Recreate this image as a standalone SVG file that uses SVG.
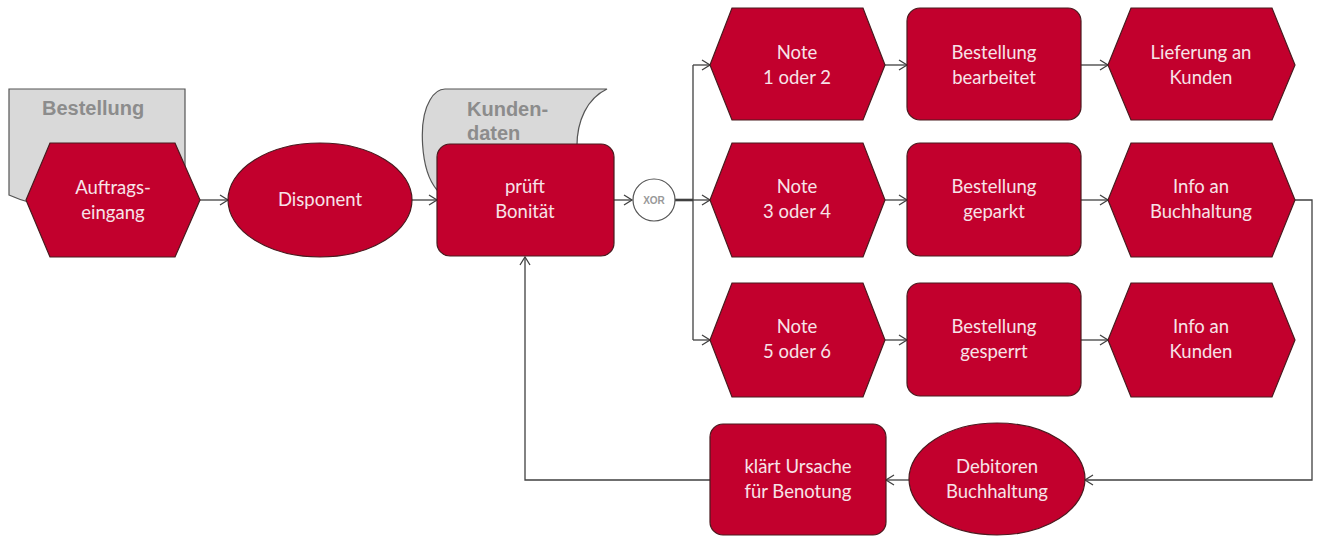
<svg xmlns="http://www.w3.org/2000/svg" width="1329" height="537" viewBox="0 0 1329 537">
<style>
.n{fill:#c2002d;stroke:#4a1a1f;stroke-width:1.2}
.t{font-family:Lato,"Liberation Sans",sans-serif;font-size:18.5px;fill:#f7e3e8;text-anchor:middle}
.doc{fill:#d9d9d9;stroke:#555;stroke-width:1.2}
.dt{font-family:"Liberation Sans",Arial,sans-serif;font-weight:bold;font-size:20px;fill:#8c8c8c}
.c{fill:none;stroke:#404040;stroke-width:1.3}
</style>
<defs>
<marker id="a" markerUnits="userSpaceOnUse" markerWidth="12" markerHeight="12" refX="9" refY="6" orient="auto">
<path d="M1,1 L9,6 L1,11" fill="none" stroke="#404040" stroke-width="1.3"/>
</marker>
</defs>
<g id="bestellung-doc">
<path class="doc" d="M9,89 H185 V195 C150,185 100,200 60,205 C40,207 20,200 9,195 Z"/>
<text class="dt" x="42" y="115">Bestellung</text>
</g>
<g id="kundendaten-doc">
<path class="doc" d="M445,89 H607 C588,98 576,120 577,150 L577,190 L437,190 C420,170 418,120 430,100 C434,93 438,89 445,89 Z"/>
<text class="dt" x="467" y="116">Kunden-</text>
<text class="dt" x="467" y="140">daten</text>
</g>
<g id="connectors">
<line class="c" x1="200" y1="200" x2="228" y2="200" marker-end="url(#a)"/>
<line class="c" x1="412" y1="200" x2="437" y2="200" marker-end="url(#a)"/>
<line class="c" x1="614" y1="200" x2="632" y2="200" marker-end="url(#a)"/>
<line x1="675" y1="200" x2="693" y2="200" stroke="#404040" stroke-width="2.6"/>
<line class="c" x1="693" y1="65" x2="693" y2="340"/>
<line class="c" x1="693" y1="65" x2="710" y2="65" marker-end="url(#a)"/>
<line class="c" x1="693" y1="200" x2="710" y2="200" marker-end="url(#a)"/>
<line class="c" x1="693" y1="340" x2="710" y2="340" marker-end="url(#a)"/>
<line class="c" x1="885" y1="65" x2="907" y2="65" marker-end="url(#a)"/>
<line class="c" x1="885" y1="200" x2="907" y2="200" marker-end="url(#a)"/>
<line class="c" x1="885" y1="340" x2="907" y2="340" marker-end="url(#a)"/>
<line class="c" x1="1081" y1="65" x2="1108" y2="65" marker-end="url(#a)"/>
<line class="c" x1="1081" y1="200" x2="1108" y2="200" marker-end="url(#a)"/>
<line class="c" x1="1081" y1="340" x2="1108" y2="340" marker-end="url(#a)"/>
<polyline class="c" points="1295,200 1312,200 1312,480 1085,480" marker-end="url(#a)"/>
<line class="c" x1="909" y1="480" x2="886" y2="480" marker-end="url(#a)"/>
<polyline class="c" points="710,480 525,480 525,257" marker-end="url(#a)"/>
</g>
<g id="auftragseingang">
<polygon class="n" points="26,200 50,143 175,143 200,200 175,257 50,257"/>
<text class="t" x="113" y="194">Auftrags-</text>
<text class="t" x="113" y="219">eingang</text>
</g>
<g id="disponent">
<ellipse class="n" cx="320" cy="200" rx="92" ry="57"/>
<text class="t" x="320" y="206">Disponent</text>
</g>
<g id="prueft">
<rect class="n" x="437" y="144" width="177" height="112" rx="13"/>
<text class="t" x="525" y="193">prüft</text>
<text class="t" x="525" y="218">Bonität</text>
</g>
<g id="xor">
<circle cx="654" cy="200" r="21" fill="#fff" stroke="#555" stroke-width="1.2"/>
<text x="654" y="204" font-family="Liberation Sans,Arial,sans-serif" font-size="10" font-weight="bold" fill="#999" text-anchor="middle">XOR</text>
</g>
<g id="note12">
<polygon class="n" points="710,65 732,8 863,8 885,65 863,120 732,120"/>
<text class="t" x="797" y="59">Note</text>
<text class="t" x="797" y="84">1 oder 2</text>
</g>
<g id="bearbeitet">
<rect class="n" x="907" y="8" width="174" height="112" rx="13"/>
<text class="t" x="994" y="59">Bestellung</text>
<text class="t" x="994" y="84">bearbeitet</text>
</g>
<g id="lieferung">
<polygon class="n" points="1108,65 1131,8 1272,8 1295,65 1272,120 1131,120"/>
<text class="t" x="1201" y="59">Lieferung an</text>
<text class="t" x="1201" y="84">Kunden</text>
</g>
<g id="note34">
<polygon class="n" points="710,200 732,143 863,143 885,200 863,257 732,257"/>
<text class="t" x="797" y="193">Note</text>
<text class="t" x="797" y="218">3 oder 4</text>
</g>
<g id="geparkt">
<rect class="n" x="907" y="143" width="174" height="113" rx="13"/>
<text class="t" x="994" y="193">Bestellung</text>
<text class="t" x="994" y="218">geparkt</text>
</g>
<g id="info-buchhaltung">
<polygon class="n" points="1108,200 1131,143 1272,143 1295,200 1272,257 1131,257"/>
<text class="t" x="1201" y="193">Info an</text>
<text class="t" x="1201" y="218">Buchhaltung</text>
</g>
<g id="note56">
<polygon class="n" points="710,340 732,283 863,283 885,340 863,397 732,397"/>
<text class="t" x="797" y="333">Note</text>
<text class="t" x="797" y="358">5 oder 6</text>
</g>
<g id="gesperrt">
<rect class="n" x="907" y="283" width="174" height="113" rx="13"/>
<text class="t" x="994" y="333">Bestellung</text>
<text class="t" x="994" y="358">gesperrt</text>
</g>
<g id="info-kunden">
<polygon class="n" points="1108,340 1131,283 1272,283 1295,340 1272,397 1131,397"/>
<text class="t" x="1201" y="333">Info an</text>
<text class="t" x="1201" y="358">Kunden</text>
</g>
<g id="debitoren">
<ellipse class="n" cx="997" cy="479" rx="88" ry="56"/>
<text class="t" x="997" y="473">Debitoren</text>
<text class="t" x="997" y="498">Buchhaltung</text>
</g>
<g id="klaert">
<rect class="n" x="710" y="424" width="176" height="111" rx="13"/>
<text class="t" x="798" y="473">klärt Ursache</text>
<text class="t" x="798" y="498">für Benotung</text>
</g>
</svg>
